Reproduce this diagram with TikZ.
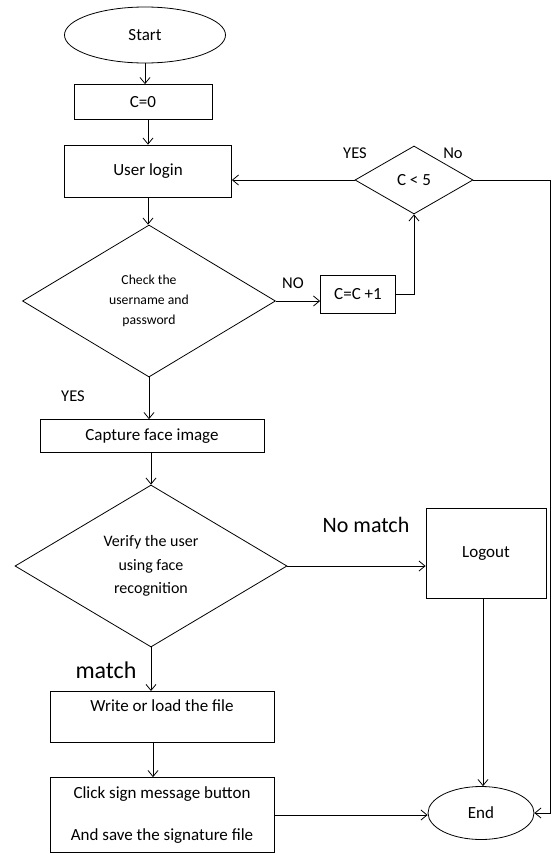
\documentclass[tikz,border=0pt]{standalone}
\usepackage{fontspec}
\setmainfont{Carlito}
\usetikzlibrary{shapes.geometric}
\usetikzlibrary{arrows.meta}
\tikzset{>={Straight Barb[length=6pt,width=10pt]},
         box/.style = {draw, rectangle, inner sep=0pt,
                       font=\fontsize{17}{20}\selectfont},
         decision/.style = {draw, diamond, inner sep=0pt, align=center},
         terminal/.style = {draw, ellipse, inner sep=0pt,
                            font=\fontsize{17}{20}\selectfont},
         lbl/.style = {font=\fontsize{16.5}{20}\selectfont},
         biglbl/.style = {font=\fontsize{22}{26}\selectfont}}

\begin{document}
\begin{tikzpicture}[x=1pt, y=-1pt, line width=0.8pt]
      \useasboundingbox (0, 0) rectangle (552, 854);

      \node [terminal, minimum width=161pt, minimum height=56pt] (start) at (145, 35) {Start};
      \node [box, minimum width=138pt, minimum height=35pt] (cinit) at (143, 102) {C=0};
      \node [box, minimum width=167pt, minimum height=52pt] (login) at (148, 171) {User login};
      \node [decision, minimum width=253pt, minimum height=152pt,
             font=\fontsize{13.7}{20}\selectfont] (check) at (149, 301)
            {Check the\\username and\\password};
      \node [box, minimum width=75pt, minimum height=38pt] (cinc) at (358, 294) {C=C +1};
      \node [decision, minimum width=118pt, minimum height=68pt,
             font=\fontsize{17}{20}\selectfont] (limit) at (414, 180) {C < 5};
      \node [box, minimum width=224pt, minimum height=33pt] (capture) at (152, 436) {Capture face image};
      \node [decision, minimum width=272pt, minimum height=162pt,
             font=\fontsize{16}{23.5}\selectfont] (verify) at (151, 566)
            {Verify the user\\using face\\recognition};
      \node [box, minimum width=120pt, minimum height=90pt] (logout) at (486, 553) {Logout};
      \node [box, anchor=north, minimum width=224pt, text height=20pt, text depth=31pt]
            (write) at (162, 691) {Write or load the file};
      \node [box, minimum width=224pt, minimum height=75pt, align=center,
             font=\fontsize{17}{42}\selectfont] (click) at (162, 815)
            {Click sign message button\\And save the signature file};
      \node [terminal, minimum width=106pt, minimum height=53pt] (done) at (481, 813) {End};
      \coordinate (rail) at (550, 0);

      \node [lbl] (yeslimit) at (355, 153) {YES};
      \node [lbl] (nolimit) at (453, 153) {No};
      \node [lbl] (nocheck) at (293, 283) {NO};
      \node [lbl] (yescheck) at (73, 396) {YES};
      \node [biglbl] (nomatch) at (366, 525) {No match};
      \node [biglbl, font=\fontsize{24}{28}\selectfont] (match) at (106, 670) {match};

      \draw [->] (start.south) -- (start.south |- cinit.north);
      \draw [->] (cinit.south -| login.north) -- (login.north);
      \draw [->] (login.south) -- (login.south |- check.north);
      \draw [->] (check.south) -- (check.south |- capture.north);
      \draw [->] (capture.south -| verify.north) -- (verify.north);
      \draw [->] (verify.south) -- (verify.south |- write.north);
      \draw [->] (write.south -| 153, 0) -- (click.north -| 153, 0);
      \draw [->] (check.east) -- (check.east -| cinc.west);
      \draw [->] (cinc.east) -| (limit.south);
      \draw [->] (limit.west) -- (limit.west -| login.east);
      \draw [->] (limit.east) -- (limit.east -| rail) -- (rail |- done.east) -- (done.east);
      \draw [->] (verify.east) -- (verify.east -| logout.west);
      \draw [->] (logout.south -| 483, 0) -- (done.north -| 483, 0);
      \draw [->] (click.east) -- (click.east -| done.west);
    \end{tikzpicture}
\end{document}
